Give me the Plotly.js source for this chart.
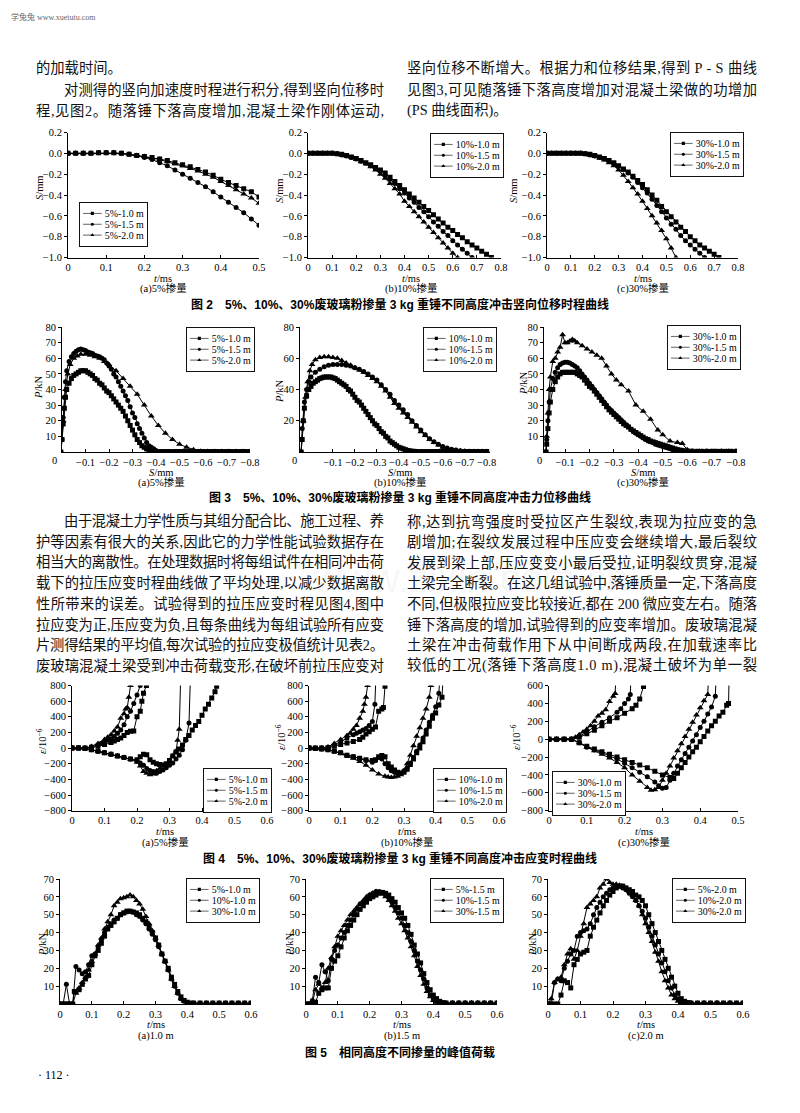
<!DOCTYPE html>
<html><head><meta charset="utf-8">
<script src="https://cdn.plot.ly/plotly-3.0.1.min.js"></script>
<style>html,body{margin:0;padding:0;background:#fff;}#gd{width:800px;height:1113px;}</style>
</head><body><div id="gd"></div>
<script>
// ---------------- Fig 2 : S vs t ----------------
const t2a = [0,0.02,0.04,0.06,0.08,0.10,0.12,0.14,0.16,0.18,0.20,0.22,0.24,0.26,0.28,0.30,0.32,0.34,0.36,0.38,0.40,0.42,0.44,0.46,0.48,0.50];
const s2a_sq = [0,0,0,0,0.005,0.005,0.005,0,-0.01,-0.02,-0.03,-0.04,-0.055,-0.07,-0.09,-0.11,-0.13,-0.155,-0.18,-0.21,-0.25,-0.28,-0.31,-0.34,-0.37,-0.42];
const s2a_ci = [0,0,0,0,0.005,0.005,0.005,0,-0.01,-0.02,-0.04,-0.06,-0.09,-0.12,-0.16,-0.2,-0.24,-0.28,-0.32,-0.37,-0.42,-0.47,-0.52,-0.57,-0.63,-0.69];
const s2a_tr = [0,0,0,0,0.005,0.005,0.005,0,-0.01,-0.02,-0.03,-0.045,-0.06,-0.08,-0.1,-0.12,-0.145,-0.17,-0.2,-0.23,-0.27,-0.31,-0.35,-0.39,-0.43,-0.48];
const t2 = [0,0.02,0.04,0.06,0.08,0.10,0.12,0.14,0.16,0.18,0.20,0.22,0.24,0.26,0.28,0.30,0.32,0.34,0.36,0.38,0.40,0.42,0.44,0.46,0.48,0.50,0.52,0.54,0.56,0.58,0.60,0.62,0.64,0.66,0.68,0.70,0.72,0.74,0.76];
const s2b_sq = [0,0,0,0,0,0,-0.005,-0.01,-0.02,-0.035,-0.05,-0.07,-0.09,-0.11,-0.135,-0.16,-0.19,-0.23,-0.27,-0.31,-0.35,-0.39,-0.43,-0.47,-0.51,-0.55,-0.59,-0.63,-0.67,-0.71,-0.74,-0.78,-0.81,-0.85,-0.88,-0.91,-0.94,-0.97,-1.0];
const s2b_ci = [0,0,0,0,0,0,-0.005,-0.015,-0.025,-0.04,-0.055,-0.075,-0.095,-0.12,-0.145,-0.17,-0.21,-0.25,-0.29,-0.34,-0.38,-0.43,-0.47,-0.52,-0.56,-0.61,-0.66,-0.7,-0.75,-0.79,-0.84,-0.88,-0.92,-0.96,-1.0];
const s2b_tr = [0,0,0,0,0,0,-0.005,-0.015,-0.025,-0.04,-0.06,-0.08,-0.1,-0.13,-0.16,-0.2,-0.24,-0.29,-0.34,-0.39,-0.46,-0.51,-0.56,-0.61,-0.66,-0.71,-0.76,-0.81,-0.86,-0.91,-0.96,-1.0];
const s2c_sq = [0,0,0,0,0,0,0,0,-0.005,-0.01,-0.02,-0.035,-0.05,-0.07,-0.09,-0.12,-0.15,-0.18,-0.22,-0.26,-0.3,-0.35,-0.4,-0.45,-0.51,-0.56,-0.61,-0.66,-0.71,-0.75,-0.8,-0.84,-0.88,-0.91,-0.94,-0.97,-1.0];
const s2c_ci = [0,0,0,0,0,0,0,0,-0.005,-0.015,-0.025,-0.04,-0.055,-0.075,-0.1,-0.125,-0.155,-0.19,-0.23,-0.28,-0.33,-0.38,-0.44,-0.5,-0.56,-0.62,-0.68,-0.73,-0.79,-0.84,-0.88,-0.92,-0.96,-1.0];
const s2c_tr = [0,0,0,0,0,0,0,0,-0.005,-0.015,-0.03,-0.045,-0.065,-0.09,-0.12,-0.16,-0.21,-0.27,-0.33,-0.39,-0.46,-0.53,-0.6,-0.67,-0.74,-0.82,-0.91,-1.0];

// ---------------- Fig 3 : P vs S  [S, P] ----------------
const f3a_sq = [[0.005,0],[0,8],[-0.005,18],[-0.01,28],[-0.015,35],[-0.02,40],[-0.03,44],[-0.04,47],[-0.05,49],[-0.06,50],[-0.07,51],[-0.08,52],[-0.09,52],[-0.10,52],[-0.11,51],[-0.12,50],[-0.13,49],[-0.14,47],[-0.15,46],[-0.16,44],[-0.17,43],[-0.18,41],[-0.19,39],[-0.20,38],[-0.21,36],[-0.22,34],[-0.23,32],[-0.24,30],[-0.25,28],[-0.26,26],[-0.27,23],[-0.28,20],[-0.29,17],[-0.30,14],[-0.31,11],[-0.32,8],[-0.33,6],[-0.34,4],[-0.35,3],[-0.36,2],[-0.37,1],[-0.38,0.5],[-0.40,0.3],[-0.42,0.3],[-0.44,0.3],[-0.46,0.3],[-0.48,0.3],[-0.50,0.3],[-0.52,0.3],[-0.54,0.3],[-0.56,0.3],[-0.58,0.3],[-0.60,0.3],[-0.62,0.3],[-0.64,0.3],[-0.66,0.3],[-0.68,0.3],[-0.70,0.3],[-0.72,0.3],[-0.74,0.3],[-0.76,0.3],[-0.78,0.3],[-0.80,0.3]];
const f3a_ci = [[0.005,0],[0,8],[-0.005,22],[-0.01,35],[-0.015,45],[-0.02,52],[-0.03,58],[-0.04,61],[-0.05,63],[-0.06,64.5],[-0.07,65.5],[-0.08,66],[-0.09,65.5],[-0.10,65],[-0.11,64],[-0.12,63.5],[-0.13,63],[-0.14,62],[-0.15,61.5],[-0.16,61],[-0.17,60],[-0.18,59],[-0.19,57],[-0.20,55],[-0.21,53],[-0.22,50],[-0.23,48],[-0.24,45],[-0.25,42],[-0.26,39],[-0.27,36],[-0.28,33],[-0.29,29],[-0.30,25],[-0.31,22],[-0.32,18],[-0.33,15],[-0.34,12],[-0.35,9],[-0.36,6],[-0.37,4],[-0.38,3],[-0.39,2],[-0.40,1],[-0.42,0.3],[-0.44,0.3],[-0.46,0.3],[-0.48,0.3],[-0.50,0.3],[-0.52,0.3],[-0.54,0.3],[-0.56,0.3],[-0.58,0.3],[-0.60,0.3],[-0.62,0.3],[-0.64,0.3],[-0.66,0.3],[-0.68,0.3],[-0.70,0.3],[-0.72,0.3],[-0.74,0.3],[-0.76,0.3],[-0.78,0.3],[-0.80,0.3]];
const f3a_tr = [[0.005,0],[-0.005,20],[-0.015,40],[-0.025,50],[-0.035,56],[-0.05,60],[-0.065,61.5],[-0.08,62.5],[-0.10,62.5],[-0.12,62],[-0.14,61],[-0.16,60],[-0.18,58],[-0.20,56],[-0.23,52],[-0.26,47],[-0.29,42],[-0.32,37],[-0.35,30],[-0.38,23],[-0.41,17],[-0.44,12],[-0.47,8],[-0.50,5],[-0.53,3],[-0.56,1.5],[-0.59,0.5],[-0.62,0.3],[-0.65,0.3],[-0.68,0.3],[-0.71,0.3],[-0.74,0.3],[-0.77,0.3],[-0.80,0.3]];
const f3b_sq = [[0.045,0],[0.04,8],[0.035,20],[0.03,28],[0.02,36],[0.01,40],[0,42],[-0.01,44],[-0.02,45],[-0.03,46],[-0.04,47],[-0.05,47.5],[-0.06,48],[-0.07,48],[-0.08,48],[-0.09,48],[-0.10,47.5],[-0.11,47],[-0.12,46],[-0.13,45],[-0.14,44],[-0.15,43],[-0.16,42],[-0.17,40],[-0.18,39],[-0.19,37],[-0.20,35],[-0.21,33],[-0.22,32],[-0.23,30],[-0.24,28],[-0.25,26],[-0.26,24],[-0.27,22],[-0.28,20],[-0.29,18],[-0.30,17],[-0.31,15],[-0.32,13],[-0.33,12],[-0.34,10],[-0.35,9],[-0.36,7],[-0.37,6],[-0.38,5],[-0.39,4],[-0.40,3],[-0.41,2.5],[-0.42,2],[-0.43,1.5],[-0.44,1],[-0.45,0.7],[-0.46,0.5],[-0.47,0.4],[-0.48,0.3],[-0.50,0.3],[-0.52,0.3],[-0.54,0.3],[-0.56,0.3],[-0.58,0.3],[-0.60,0.3],[-0.62,0.3],[-0.64,0.3],[-0.66,0.3],[-0.68,0.3],[-0.70,0.3],[-0.72,0.3],[-0.74,0.3],[-0.76,0.3],[-0.78,0.3],[-0.80,0.3]];
const f3b_ci = [[0.045,0],[0.04,15],[0.03,32],[0.02,40],[0.01,45],[0,48],[-0.02,51],[-0.04,53],[-0.06,54.5],[-0.08,55.5],[-0.10,56],[-0.12,56],[-0.14,56],[-0.16,55.5],[-0.18,55],[-0.20,54],[-0.22,53],[-0.24,51.5],[-0.26,50],[-0.28,48],[-0.30,46],[-0.32,43],[-0.34,40],[-0.36,37],[-0.38,33],[-0.40,30],[-0.42,27],[-0.44,24],[-0.46,20],[-0.48,17],[-0.50,14],[-0.52,11],[-0.54,8.5],[-0.56,6.5],[-0.58,5],[-0.60,3.5],[-0.62,2.5],[-0.64,1.8],[-0.66,1.2],[-0.68,0.8],[-0.70,0.5],[-0.72,0.3],[-0.74,0.3],[-0.76,0.3],[-0.78,0.3],[-0.80,0.3]];
const f3b_tr = [[0.045,0],[0.035,20],[0.025,35],[0.015,45],[0.005,52],[-0.005,56],[-0.02,59],[-0.04,60.5],[-0.06,61],[-0.08,61],[-0.10,60.5],[-0.12,60],[-0.14,58.5],[-0.16,57],[-0.18,55.5],[-0.20,54],[-0.22,52.5],[-0.24,51],[-0.26,49],[-0.28,47],[-0.30,45],[-0.32,42],[-0.34,39],[-0.36,35],[-0.38,31],[-0.40,28],[-0.42,25],[-0.44,22],[-0.46,19],[-0.48,16],[-0.50,13],[-0.52,10.5],[-0.54,8],[-0.56,6],[-0.58,4.5],[-0.60,3],[-0.62,2],[-0.64,1.5],[-0.66,1],[-0.68,0.7],[-0.70,0.5],[-0.72,0.3],[-0.74,0.3],[-0.76,0.3],[-0.78,0.3],[-0.80,0.3]];
const f3c_sq = [[-0.022,0],[-0.025,5],[-0.03,15],[-0.035,25],[-0.04,32],[-0.05,40],[-0.06,45],[-0.07,48],[-0.08,50],[-0.09,51],[-0.10,51],[-0.11,51],[-0.12,51],[-0.13,51],[-0.14,51],[-0.15,50],[-0.16,49],[-0.17,48],[-0.18,46],[-0.19,44],[-0.20,42],[-0.21,41],[-0.22,39],[-0.23,37],[-0.24,35],[-0.25,33],[-0.26,31],[-0.27,29],[-0.28,27],[-0.29,25.5],[-0.30,24],[-0.31,22.5],[-0.32,21],[-0.33,19.5],[-0.34,18],[-0.35,17],[-0.36,16],[-0.37,14.5],[-0.38,13.5],[-0.39,12.5],[-0.40,11.5],[-0.41,10.5],[-0.42,9.5],[-0.43,8.5],[-0.44,8],[-0.45,7],[-0.46,6.5],[-0.47,6],[-0.48,5.5],[-0.49,5],[-0.50,4.5],[-0.51,4],[-0.52,3.5],[-0.53,3],[-0.54,2.5],[-0.55,2],[-0.56,1.5],[-0.57,1.2],[-0.58,1],[-0.60,0.7],[-0.62,0.5],[-0.64,0.4],[-0.66,0.4],[-0.68,0.4],[-0.70,0.4],[-0.72,0.4],[-0.74,0.4],[-0.76,0.4],[-0.78,0.4],[-0.80,0.4]];
const f3c_ci = [[-0.022,0],[-0.025,8],[-0.03,20],[-0.035,32],[-0.04,40],[-0.05,47],[-0.06,51],[-0.07,54],[-0.08,56],[-0.09,57],[-0.10,57.5],[-0.11,57.5],[-0.12,57],[-0.13,56],[-0.14,55],[-0.15,54],[-0.16,52],[-0.17,50],[-0.18,48],[-0.19,46],[-0.20,44],[-0.21,42],[-0.22,40],[-0.23,38],[-0.24,36],[-0.25,34],[-0.26,32],[-0.27,30],[-0.28,28],[-0.29,26.5],[-0.30,25],[-0.31,23.5],[-0.32,22],[-0.33,20.5],[-0.34,19],[-0.35,17.5],[-0.36,16],[-0.37,14.5],[-0.38,13],[-0.39,12],[-0.40,11],[-0.41,10],[-0.42,9],[-0.43,8],[-0.44,7],[-0.45,6.5],[-0.46,6],[-0.47,5],[-0.48,4.5],[-0.49,4],[-0.50,3.5],[-0.51,3],[-0.52,2.5],[-0.53,2],[-0.54,1.5],[-0.55,1.2],[-0.56,1],[-0.58,0.7],[-0.60,0.5],[-0.62,0.4],[-0.64,0.4],[-0.66,0.4],[-0.68,0.4],[-0.70,0.4],[-0.72,0.4],[-0.74,0.4],[-0.76,0.4],[-0.78,0.4],[-0.80,0.4]];
const f3c_tr = [[-0.022,0],[-0.025,10],[-0.03,25],[-0.035,40],[-0.04,48],[-0.05,58],[-0.06,60],[-0.07,64],[-0.08,67],[-0.09,75],[-0.10,70],[-0.11,70],[-0.12,71],[-0.13,72],[-0.14,71],[-0.15,70],[-0.17,68],[-0.19,66],[-0.21,64],[-0.23,62],[-0.25,60],[-0.27,55],[-0.29,50],[-0.31,46],[-0.33,43],[-0.36,39],[-0.39,30],[-0.42,26],[-0.45,21],[-0.48,14],[-0.50,11],[-0.53,7],[-0.56,6],[-0.58,5.5],[-0.60,1.5],[-0.62,0.5],[-0.65,0.5],[-0.68,0.5],[-0.71,0.5],[-0.74,0.5],[-0.77,0.5],[-0.80,0.5]];

// ---------------- Fig 4 : strain vs t  [t, e]  (tension branch / compression branch) ----------------
const f4a_sq_up = [[0,0],[0.02,0],[0.04,0],[0.06,10],[0.08,25],[0.10,45],[0.12,70],[0.13,90],[0.14,110],[0.15,130],[0.16,160],[0.17,200],[0.18,215],[0.19,220],[0.20,400],[0.21,470],[0.215,600],[0.22,700],[0.229,800]];
const f4a_sq_dn = [[0,0],[0.02,0],[0.04,-5],[0.06,-20],[0.08,-40],[0.10,-60],[0.12,-80],[0.14,-100],[0.16,-120],[0.18,-140],[0.20,-150],[0.21,-110],[0.22,-80],[0.23,-85],[0.24,-150],[0.25,-180],[0.26,-200],[0.27,-210],[0.28,-215],[0.29,-200],[0.30,-160],[0.31,-100],[0.32,-50],[0.33,-10],[0.34,40],[0.35,110],[0.36,160],[0.37,230],[0.38,290],[0.39,340],[0.40,420],[0.41,500],[0.42,560],[0.43,640],[0.44,720],[0.445,790]];
const f4a_ci_up = [[0,0],[0.02,0],[0.04,0],[0.06,15],[0.08,40],[0.09,60],[0.10,80],[0.11,100],[0.12,120],[0.13,150],[0.14,190],[0.15,230],[0.16,300],[0.17,400],[0.18,470],[0.19,570],[0.20,680],[0.21,800]];
const f4a_ci_dn = [[0,0],[0.02,0],[0.04,-5],[0.06,-20],[0.08,-40],[0.10,-60],[0.12,-80],[0.14,-100],[0.16,-120],[0.18,-140],[0.20,-165],[0.21,-190],[0.22,-220],[0.23,-260],[0.24,-285],[0.25,-300],[0.26,-320],[0.27,-300],[0.28,-280],[0.29,-250],[0.30,-220],[0.31,-190],[0.32,-140],[0.33,-90],[0.34,-20],[0.35,100],[0.36,320],[0.365,1000]];
const f4a_tr_up = [[0,0],[0.02,0],[0.04,0],[0.06,20],[0.08,60],[0.10,110],[0.11,140],[0.12,170],[0.13,220],[0.14,270],[0.15,380],[0.16,440],[0.165,500],[0.17,520],[0.175,650],[0.18,800]];
const f4a_tr_dn = [[0,0],[0.02,0],[0.04,-5],[0.06,-20],[0.08,-40],[0.10,-60],[0.12,-80],[0.14,-100],[0.16,-120],[0.18,-145],[0.20,-180],[0.21,-230],[0.22,-300],[0.23,-320],[0.24,-340],[0.25,-330],[0.26,-290],[0.27,-260],[0.28,-230],[0.29,-210],[0.30,-180],[0.31,-100],[0.32,-40],[0.325,100],[0.33,240],[0.335,1000]];
const f4b_sq_up = [[0,0],[0.02,0],[0.04,0],[0.06,5],[0.08,25],[0.10,45],[0.12,65],[0.14,85],[0.16,110],[0.17,140],[0.18,180],[0.19,210],[0.20,240],[0.21,270],[0.22,470],[0.23,500],[0.235,520],[0.24,790]];
const f4b_sq_dn = [[0,0],[0.02,-5],[0.04,-10],[0.06,-20],[0.08,-40],[0.10,-60],[0.12,-90],[0.14,-110],[0.16,-130],[0.18,-150],[0.20,-160],[0.21,-150],[0.22,-110],[0.23,-95],[0.24,-110],[0.25,-200],[0.26,-240],[0.27,-280],[0.28,-310],[0.29,-320],[0.30,-310],[0.31,-270],[0.32,-210],[0.33,-140],[0.34,-60],[0.35,0],[0.36,80],[0.37,180],[0.38,280],[0.39,380],[0.40,450],[0.41,550],[0.42,650],[0.425,1000]];
const f4b_ci_up = [[0,0],[0.02,0],[0.04,0],[0.06,10],[0.08,40],[0.10,80],[0.12,130],[0.14,170],[0.15,190],[0.16,210],[0.17,230],[0.18,250],[0.19,290],[0.20,340],[0.208,560],[0.212,1000]];
const f4b_ci_dn = [[0,0],[0.02,-5],[0.04,-10],[0.06,-20],[0.08,-40],[0.10,-60],[0.12,-90],[0.14,-110],[0.16,-135],[0.18,-160],[0.20,-180],[0.21,-160],[0.22,-120],[0.23,-140],[0.24,-200],[0.25,-250],[0.26,-290],[0.27,-310],[0.28,-320],[0.29,-320],[0.30,-290],[0.31,-250],[0.32,-190],[0.33,-120],[0.34,-40],[0.35,40],[0.36,130],[0.37,230],[0.38,330],[0.39,420],[0.40,530],[0.41,700],[0.415,1000]];
const f4b_tr_up = [[0,0],[0.02,0],[0.04,0],[0.06,15],[0.08,60],[0.10,110],[0.12,160],[0.13,190],[0.14,240],[0.15,290],[0.16,380],[0.17,470],[0.175,560],[0.18,650],[0.185,800]];
const f4b_tr_dn = [[0,0],[0.02,-5],[0.04,-10],[0.06,-20],[0.08,-40],[0.10,-70],[0.12,-100],[0.14,-130],[0.16,-170],[0.18,-220],[0.20,-280],[0.22,-330],[0.24,-360],[0.25,-370],[0.26,-375],[0.27,-370],[0.28,-360],[0.29,-340],[0.30,-290],[0.31,-200],[0.32,-90],[0.33,30],[0.34,150],[0.35,260],[0.36,380],[0.37,500],[0.38,650],[0.385,800]];
const f4c_sq_up = [[0,0],[0.02,0],[0.04,0],[0.06,0],[0.08,20],[0.10,60],[0.12,100],[0.14,150],[0.16,200],[0.18,240],[0.20,290],[0.22,340],[0.23,380],[0.24,450],[0.25,590]];
const f4c_sq_dn = [[0,0],[0.02,0],[0.04,0],[0.06,0],[0.08,-40],[0.10,-80],[0.12,-110],[0.14,-140],[0.16,-170],[0.18,-200],[0.20,-230],[0.22,-260],[0.24,-290],[0.26,-320],[0.28,-360],[0.30,-400],[0.32,-430],[0.33,-440],[0.34,-380],[0.35,-320],[0.36,-260],[0.37,-200],[0.38,-140],[0.39,-90],[0.40,-30],[0.41,30],[0.42,90],[0.43,150],[0.44,200],[0.45,260],[0.46,300],[0.47,380],[0.475,400],[0.478,1000]];
const f4c_ci_up = [[0,0],[0.02,0],[0.04,0],[0.06,0],[0.08,30],[0.10,80],[0.12,140],[0.14,190],[0.16,240],[0.18,300],[0.19,340],[0.20,400],[0.21,450],[0.215,500],[0.22,1000]];
const f4c_ci_dn = [[0,0],[0.02,0],[0.04,0],[0.06,0],[0.08,-40],[0.10,-90],[0.12,-120],[0.14,-150],[0.16,-190],[0.18,-220],[0.20,-270],[0.22,-320],[0.24,-370],[0.26,-420],[0.28,-480],[0.29,-520],[0.30,-550],[0.31,-540],[0.32,-460],[0.33,-380],[0.34,-300],[0.35,-230],[0.36,-160],[0.37,-90],[0.38,-20],[0.39,50],[0.40,130],[0.41,200],[0.42,280],[0.43,360],[0.44,480],[0.445,1000]];
const f4c_tr_up = [[0,0],[0.02,0],[0.04,0],[0.06,0],[0.07,20],[0.08,50],[0.09,80],[0.10,110],[0.11,150],[0.12,200],[0.13,260],[0.14,290],[0.15,330],[0.16,420],[0.17,480],[0.175,510],[0.18,1000]];
const f4c_tr_dn = [[0,0],[0.02,0],[0.04,0],[0.06,0],[0.08,-40],[0.10,-90],[0.12,-130],[0.14,-170],[0.16,-210],[0.18,-260],[0.20,-320],[0.22,-400],[0.24,-470],[0.26,-540],[0.27,-570],[0.28,-565],[0.29,-540],[0.30,-460],[0.31,-380],[0.32,-300],[0.33,-210],[0.34,-130],[0.35,-50],[0.36,30],[0.37,110],[0.38,190],[0.39,270],[0.40,350],[0.41,430],[0.42,500],[0.425,1000]];

// ---------------- Fig 5 : P vs t  [t, P] ----------------
const f5a_5 = [[0,0],[0.01,0],[0.02,0],[0.03,0],[0.04,0],[0.045,7],[0.05,7],[0.06,8],[0.07,11],[0.08,14],[0.09,16],[0.10,22],[0.11,27],[0.12,30],[0.13,34],[0.14,38],[0.15,42],[0.16,44],[0.17,46],[0.18,48],[0.19,50],[0.20,51],[0.21,52],[0.22,52],[0.23,51.5],[0.24,51],[0.25,50],[0.26,48],[0.27,46],[0.28,43],[0.29,40],[0.30,37],[0.31,33],[0.32,28],[0.33,24],[0.34,20],[0.35,15],[0.36,11],[0.37,7],[0.38,4],[0.39,2],[0.40,1],[0.41,0.5],[0.42,0.5],[0.44,0.5],[0.46,0.5],[0.48,0.5],[0.50,0.5],[0.52,0.5],[0.54,0.5],[0.56,0.5],[0.58,0.5],[0.60,0.5]];
const f5a_10 = [[0,0],[0.01,0],[0.02,11],[0.03,0],[0.04,0],[0.05,21],[0.06,19],[0.07,17],[0.08,18],[0.09,22],[0.10,27],[0.11,28],[0.12,32],[0.13,36],[0.14,40],[0.15,43],[0.16,45],[0.17,47],[0.18,48],[0.19,50],[0.20,51],[0.21,51.5],[0.22,52],[0.23,51.5],[0.24,50],[0.25,49],[0.26,47],[0.27,45],[0.28,42],[0.29,39],[0.30,36],[0.31,32],[0.32,28],[0.33,24],[0.34,19],[0.35,14],[0.36,10],[0.37,6],[0.38,3],[0.39,1.5],[0.40,0.5],[0.42,0.5],[0.44,0.5],[0.46,0.5],[0.48,0.5],[0.50,0.5],[0.52,0.5],[0.54,0.5],[0.56,0.5],[0.58,0.5],[0.60,0.5]];
const f5a_30 = [[0,0],[0.01,0],[0.02,0],[0.03,0],[0.04,0],[0.05,6],[0.06,9],[0.07,12],[0.08,15],[0.09,19],[0.10,24],[0.11,28],[0.12,33],[0.13,37],[0.14,42],[0.15,46],[0.16,50],[0.17,55],[0.18,57],[0.19,59],[0.20,59.5],[0.21,60],[0.22,61],[0.23,60],[0.24,58],[0.25,56],[0.26,53],[0.27,49],[0.28,45],[0.29,41],[0.30,37],[0.31,33],[0.32,28],[0.33,24],[0.34,19],[0.35,14],[0.36,10],[0.37,6],[0.38,3],[0.39,1.5],[0.40,0.5]];
const f5b_5 = [[0,0],[0.01,0],[0.02,0],[0.03,1],[0.04,6],[0.05,8],[0.06,9],[0.07,9],[0.08,20],[0.09,24],[0.10,27],[0.11,32],[0.12,37],[0.13,41],[0.14,44],[0.15,47],[0.16,50],[0.17,53],[0.18,55],[0.19,57],[0.20,59],[0.21,60],[0.22,61],[0.23,62],[0.24,62.5],[0.25,62],[0.26,61],[0.27,59],[0.28,57],[0.29,54],[0.30,51],[0.31,48],[0.32,44],[0.33,39],[0.34,33],[0.35,28],[0.36,23],[0.37,17],[0.38,12],[0.39,8],[0.40,5],[0.41,3],[0.42,1.5],[0.43,0.8],[0.44,0.5],[0.46,0.5],[0.48,0.5],[0.50,0.5],[0.52,0.5],[0.54,0.5],[0.56,0.5],[0.58,0.5],[0.60,0.5]];
const f5b_10 = [[0,0],[0.01,0],[0.02,2],[0.03,15],[0.04,12],[0.05,22],[0.06,18],[0.07,13],[0.08,25],[0.09,30],[0.10,33],[0.11,37],[0.12,40],[0.13,44],[0.14,47],[0.15,50],[0.16,53],[0.17,56],[0.18,57],[0.19,59],[0.20,61],[0.21,62],[0.22,63],[0.23,63],[0.24,62],[0.25,61],[0.26,59.5],[0.27,57],[0.28,54],[0.29,51],[0.30,48],[0.31,44],[0.32,40],[0.33,35],[0.34,30],[0.35,24],[0.36,19],[0.37,14],[0.38,9],[0.39,5],[0.40,3],[0.41,1.5],[0.42,1],[0.44,0.5],[0.46,0.5],[0.48,0.5],[0.50,0.5],[0.52,0.5],[0.54,0.5],[0.56,0.5],[0.58,0.5],[0.60,0.5]];
const f5b_30 = [[0,0],[0.01,0],[0.02,1],[0.03,8],[0.04,11],[0.05,9],[0.06,12],[0.07,20],[0.08,26],[0.09,32],[0.10,38],[0.11,41],[0.12,44],[0.13,47],[0.14,50],[0.15,52],[0.16,54],[0.17,56],[0.18,58],[0.19,60],[0.20,61],[0.21,62],[0.22,63],[0.23,62.5],[0.24,62],[0.25,60],[0.26,58],[0.27,55],[0.28,52],[0.29,48],[0.30,45],[0.31,41],[0.32,37],[0.33,32],[0.34,27],[0.35,21],[0.36,16],[0.37,11],[0.38,7],[0.39,4],[0.40,2],[0.41,1],[0.42,0.5],[0.44,0.5],[0.46,0.5],[0.48,0.5],[0.50,0.5],[0.52,0.5],[0.54,0.5],[0.56,0.5],[0.58,0.5],[0.60,0.5]];
const f5c_5 = [[0,0],[0.01,0],[0.02,0],[0.03,0],[0.04,5],[0.05,13],[0.06,12],[0.07,9],[0.08,22],[0.09,25],[0.10,28],[0.11,29],[0.12,30],[0.13,38],[0.14,43],[0.15,47],[0.16,51],[0.17,55],[0.18,58],[0.19,61],[0.20,63],[0.21,65],[0.22,66],[0.23,66],[0.24,65],[0.25,64],[0.26,63],[0.27,61],[0.28,60],[0.29,58],[0.30,55],[0.31,50],[0.32,45],[0.33,40],[0.34,35],[0.35,30],[0.36,25],[0.37,20],[0.38,15],[0.39,10],[0.40,6],[0.41,3],[0.42,1.5],[0.43,0.8],[0.44,0.5],[0.46,0.5],[0.48,0.5],[0.50,0.5],[0.52,0.5],[0.54,0.5],[0.56,0.5],[0.58,0.5],[0.60,0.5]];
const f5c_10 = [[0,0],[0.01,0],[0.02,12],[0.03,14],[0.04,13],[0.05,20],[0.06,24],[0.07,28],[0.08,30],[0.09,38],[0.10,40],[0.11,41],[0.12,42],[0.13,45],[0.14,50],[0.15,54],[0.16,57],[0.17,60],[0.18,62],[0.19,64],[0.20,65],[0.21,66],[0.22,66],[0.23,65],[0.24,64],[0.25,62],[0.26,60],[0.27,58],[0.28,55],[0.29,52],[0.30,48],[0.31,43],[0.32,38],[0.33,33],[0.34,28],[0.35,23],[0.36,18],[0.37,13],[0.38,9],[0.39,5],[0.40,3],[0.41,1.5],[0.42,0.5],[0.44,0.5],[0.46,0.5],[0.48,0.5],[0.50,0.5],[0.52,0.5],[0.54,0.5],[0.56,0.5],[0.58,0.5],[0.60,0.5]];
const f5c_30 = [[0,0],[0.01,3],[0.02,12],[0.03,14],[0.04,15],[0.05,22],[0.06,28],[0.07,31],[0.08,25],[0.09,30],[0.10,38],[0.11,45],[0.12,54],[0.13,56],[0.14,58],[0.15,60],[0.16,65],[0.17,67],[0.18,70],[0.19,68],[0.20,67],[0.21,67],[0.22,66.5],[0.23,66],[0.24,65],[0.25,63],[0.26,61],[0.27,58],[0.28,55],[0.29,50],[0.30,45],[0.31,40],[0.32,35],[0.33,29],[0.34,24],[0.35,18],[0.36,13],[0.37,9],[0.38,5],[0.39,3],[0.40,1.5],[0.41,0.5],[0.44,0.5],[0.48,0.5],[0.52,0.5],[0.56,0.5],[0.60,0.5]];

// ---------------- labels ----------------
const names2a = ['5%-1.0 m','5%-1.5 m','5%-2.0 m'];
const names2b = ['10%-1.0 m','10%-1.5 m','10%-2.0 m'];
const names2c = ['30%-1.0 m','30%-1.5 m','30%-2.0 m'];
const names5a = ['5%-1.0 m','10%-1.0 m','30%-1.0 m'];
const names5b = ['5%-1.5 m','10%-1.5 m','30%-1.5 m'];
const names5c = ['5%-2.0 m','10%-2.0 m','30%-2.0 m'];
const ticks2y = [0.2,0,-0.2,-0.4,-0.6,-0.8,-1.0];
const ticks3x = [-0.1,-0.2,-0.3,-0.4,-0.5,-0.6,-0.7,-0.8];
const ticks3y = [10,20,30,40,50,60,70,80];
const ticks3by = [20,40,60,80];
const ticks5y = [10,20,30,40,50,60,70];
const subcaps2 = ['(a)5%掺量','(b)10%掺量','(c)30%掺量'];
const subcaps5 = ['(a)1.0 m','(b)1.5 m','(c)2.0 m'];
const captions = ['图 2　5%、10%、30%废玻璃粉掺量 3 kg 重锤不同高度冲击竖向位移时程曲线',
  '图 3　5%、10%、30%废玻璃粉掺量 3 kg 重锤不同高度冲击力位移曲线',
  '图 4　5%、10%、30%废玻璃粉掺量 3 kg 重锤不同高度冲击应变时程曲线',
  '图 5　相同高度不同掺量的峰值荷载'];
const textTopL = ['的加载时间。','对测得的竖向加速度时程进行积分,得到竖向位移时','程,见图2。随落锤下落高度增加,混凝土梁作刚体运动,'];
const textTopR = ['竖向位移不断增大。根据力和位移结果,得到 P - S 曲线','见图3,可见随落锤下落高度增加对混凝土梁做的功增加','(PS 曲线面积)。'];
const textMidL = ['由于混凝土力学性质与其组分配合比、施工过程、养','护等因素有很大的关系,因此它的力学性能试验数据存在','相当大的离散性。在处理数据时将每组试件在相同冲击荷','载下的拉压应变时程曲线做了平均处理,以减少数据离散','性所带来的误差。试验得到的拉压应变时程见图4,图中','拉应变为正,压应变为负,且每条曲线为每组试验所有应变','片测得结果的平均值,每次试验的拉应变极值统计见表2。','废玻璃混凝土梁受到冲击荷载变形,在破坏前拉压应变对'];
const textMidR = ['称,达到抗弯强度时受拉区产生裂纹,表现为拉应变的急','剧增加;在裂纹发展过程中压应变会继续增大,最后裂纹','发展到梁上部,压应变变小最后受拉,证明裂纹贯穿,混凝','土梁完全断裂。在这几组试验中,落锤质量一定,下落高度','不同,但极限拉应变比较接近,都在 200 微应变左右。随落','锤下落高度的增加,试验得到的应变率增加。废玻璃混凝','土梁在冲击荷载作用下从中间断成两段,在加载速率比','较低的工况(落锤下落高度1.0 m),混凝土破坏为单一裂'];

// ---------------- build ----------------
const SERIF = '"Liberation Serif", "Noto Sans CJK SC", serif';
const BOLD = '"Liberation Sans", "Noto Sans CJK SC", sans-serif';
const W = 800, H = 1113, LS = 0.62, LGAP = 17.5;
const px = v => v / W, py = v => 1 - v / H;
const data = [], annotations = [], justify = [];
const layout = {width: W, height: H, margin: {l:0, r:0, t:0, b:0, autoexpand:false},
  paper_bgcolor:'#fff', plot_bgcolor:'rgba(0,0,0,0)', showlegend:true, annotations: annotations};
const SYM = ['square','circle','triangle-up'];
const TICKF = {family:SERIF, size:10.5, color:'#000'};
const LABF = {family:SERIF, size:10.5, color:'#000'};

function sfx(n){ return n === 1 ? '' : String(n); }
function addAxes(n, xd, yd, xo, yo){
  const s = sfx(n);
  const base = {showline:true, linecolor:'#000', linewidth:1, tickwidth:1, tickcolor:'#000', showgrid:false,
    zeroline:false, tickfont:TICKF, tickangle:0, autorange:false, fixedrange:true};
  layout['xaxis'+s] = Object.assign({}, base, {domain:[px(xd[0]), px(xd[1])], anchor:'y'+s, ticks:'inside', ticklen:3}, xo);
  layout['yaxis'+s] = Object.assign({}, base, {domain:[py(yd[1]), py(yd[0])], anchor:'x'+s, ticks:'outside', ticklen:3}, yo);
}
function addLegend(n, xl, yt){
  layout['legend'+sfx(n)] = {x:px(xl), y:py(yt), xanchor:'left', yanchor:'top', bgcolor:'#fff', bordercolor:'#000',
    borderwidth:1.5, font:{family:SERIF, size:16, color:'#000'}, itemwidth:30, traceorder:'normal'};
}
function addTrace(n, xs, ys, k, name){
  const s = sfx(n);
  data.push({type:'scatter', mode:'lines+markers', x:xs, y:ys, xaxis:'x'+s, yaxis:'y'+s, name:name,
    legend:'legend'+s, showlegend:true, cliponaxis:true,
    line:{color:'#000', width:1}, marker:{symbol:SYM[k], size:k===2?6:5, color:'#000', line:{width:0}}});
}
const X = p => p.map(d => d ? d[0] : null);
const Y = p => p.map(d => d ? d[1] : null);
const join = (a, b) => a.concat([null], b);
function txt(x, y, text, o){
  annotations.push(Object.assign({xref:'paper', yref:'paper', x:px(x), y:py(y), text:text, showarrow:false,
    xanchor:'center', yanchor:'middle', font:LABF}, o || {}));
  return annotations.length - 1;
}

// Fig 2
const yd2 = [132.5, 257.5];
const ax2y = {range:[-1.0, 0.2], tickvals:ticks2y, tickformat:'.1f'};
addAxes(1, [68,259], yd2, {range:[0,0.5], dtick:0.1}, ax2y);
addAxes(2, [308,501], yd2, {range:[0,0.8], dtick:0.1}, ax2y);
addAxes(3, [547,738], yd2, {range:[0,0.8], dtick:0.1}, ax2y);
addTrace(1, t2a, s2a_sq, 0, names2a[0]); addTrace(1, t2a, s2a_ci, 1, names2a[1]); addTrace(1, t2a, s2a_tr, 2, names2a[2]);
addTrace(2, t2.slice(0, s2b_sq.length), s2b_sq, 0, names2b[0]); addTrace(2, t2.slice(0, s2b_ci.length), s2b_ci, 1, names2b[1]); addTrace(2, t2.slice(0, s2b_tr.length), s2b_tr, 2, names2b[2]);
addTrace(3, t2.slice(0, s2c_sq.length), s2c_sq, 0, names2c[0]); addTrace(3, t2.slice(0, s2c_ci.length), s2c_ci, 1, names2c[1]); addTrace(3, t2.slice(0, s2c_tr.length), s2c_tr, 2, names2c[2]);
addLegend(1, 79, 202); addLegend(2, 430, 133); addLegend(3, 670, 132);

// Fig 3
const yd3 = [327, 452];
addAxes(4, [62,250], yd3, {range:[0,-0.8], tickvals:ticks3x}, {range:[0,80], tickvals:ticks3y});
addAxes(5, [300,490], yd3, {range:[0.05,-0.815], tickvals:ticks3x}, {range:[0,80], tickvals:ticks3by});
addAxes(6, [544,737], yd3, {range:[-0.014,-0.804], tickvals:ticks3x}, {range:[0,80], tickvals:ticks3y});
[[f3a_sq,f3a_ci,f3a_tr,4,names2a],[f3b_sq,f3b_ci,f3b_tr,5,names2b],[f3c_sq,f3c_ci,f3c_tr,6,names2c]].forEach(g => {
  [g[0],g[1],g[2]].forEach((p,k) => addTrace(g[3], X(p), Y(p), k, g[4][k]));
});
addLegend(4, 186, 327); addLegend(5, 423, 327); addLegend(6, 667, 325);

// Fig 4
const yd4 = [685.5, 810.7];
addAxes(7, [72,267], yd4, {range:[0,0.6], dtick:0.1}, {range:[-800,800], dtick:200});
addAxes(8, [309,499], yd4, {range:[0,0.6], dtick:0.1}, {range:[-800,800], dtick:200});
addAxes(9, [549,738], yd4, {range:[0,0.5], dtick:0.1}, {range:[-800,600], dtick:200});
[[[f4a_sq_up,f4a_sq_dn],[f4a_ci_up,f4a_ci_dn],[f4a_tr_up,f4a_tr_dn],7,names2a],
 [[f4b_sq_up,f4b_sq_dn],[f4b_ci_up,f4b_ci_dn],[f4b_tr_up,f4b_tr_dn],8,names2b],
 [[f4c_sq_up,f4c_sq_dn],[f4c_ci_up,f4c_ci_dn],[f4c_tr_up,f4c_tr_dn],9,names2c]].forEach(g => {
  [g[0],g[1],g[2]].forEach((br,k) => { const p = join(br[0], br[1]); addTrace(g[3], X(p), Y(p), k, g[4][k]); });
});
addLegend(7, 203, 768); addLegend(8, 433, 768); addLegend(9, 552, 771);

// Fig 5
const yd5 = [879, 1004];
addAxes(10, [60,251], yd5, {range:[0,0.6], dtick:0.1}, {range:[0,70], tickvals:ticks5y});
addAxes(11, [306,497], yd5, {range:[0,0.6], dtick:0.1}, {range:[0,70], tickvals:ticks5y});
addAxes(12, [548,743], yd5, {range:[0,0.6], dtick:0.1}, {range:[0,70], tickvals:ticks5y});
[[f5a_5,f5a_10,f5a_30,10,names5a],[f5b_5,f5b_10,f5b_30,11,names5b],[f5c_5,f5c_10,f5c_30,12,names5c]].forEach(g => {
  [g[0],g[1],g[2]].forEach((p,k) => addTrace(g[3], X(p), Y(p), k, g[4][k]));
});
addLegend(10, 186, 878); addLegend(11, 430, 878); addLegend(12, 672, 878);

// axis titles & sub captions
[[39,188],[279,191],[513,191]].forEach(p => txt(p[0], p[1], '<i>S</i>/mm', {textangle:-90}));
[[163,278],[411,278],[643,278]].forEach(p => txt(p[0], p[1], '<i>t</i>/ms'));
[[163,288],[411,288],[643,288]].forEach((p,i) => txt(p[0], p[1], subcaps2[i]));
[[39,387],[279,391],[523,383]].forEach(p => txt(p[0], p[1], '<i>P</i>/kN', {textangle:-90}));
[[161,472],[400,472],[643,472]].forEach(p => txt(p[0], p[1], '<i>S</i>/mm'));
[[161,482],[400,482],[643,482]].forEach((p,i) => txt(p[0], p[1], subcaps2[i]));
[[54,460],[294,460],[539,460]].forEach(p => txt(p[0], p[1], '0'));
[[42,741],[280,737],[515,737]].forEach(p => txt(p[0], p[1], '<i>ε</i>/10<sup>−6</sup>', {textangle:-90}));
[[165,831],[407,831],[644,831]].forEach(p => txt(p[0], p[1], '<i>t</i>/ms'));
[[165,842],[407,842],[644,842]].forEach((p,i) => txt(p[0], p[1], subcaps2[i]));
[[42,944],[289,944],[532,944]].forEach(p => txt(p[0], p[1], '<i>P</i>/kN', {textangle:-90}));
[[156,1024],[402,1024],[646,1024]].forEach(p => txt(p[0], p[1], '<i>t</i>/ms'));
[[156,1036],[402,1036],[646,1036]].forEach((p,i) => txt(p[0], p[1], subcaps5[i]));
[304,497,858,1052].forEach((y,i) => txt(400, y, '<b>' + captions[i] + '</b>', {font:{family:BOLD, size:12, color:'#000'}}));

// body text (justified lines get a fixed length after rendering)
const BODY = {family:SERIF, size:14.3, color:'#111'};
function bodyLine(x, y, s, w){
  const i = txt(x - 2, y, s, {xanchor:'left', align:'left', font:BODY});
  if (w) justify.push([i, w]);
}
textTopL.forEach((s,i) => bodyLine(i===1 ? 64 : 36, 68 + i*21.5, s, i===1 ? 320 : (i===2 ? 348 : 0)));
textTopR.forEach((s,i) => bodyLine(407, 68 + i*21.5, s, i < 2 ? 350 : 0));
textMidL.forEach((s,i) => bodyLine(i===0 ? 64 : 36, 521 + i*20.6, s, i===0 ? 320 : 348));
textMidR.forEach((s,i) => bodyLine(407, 521 + i*20.6, s, 350));
txt(9, 17, '学兔兔 www.xuetutu.com', {xanchor:'left', font:{family:SERIF, size:8, color:'#666'}});
txt(36, 1075, '· 112 ·', {xanchor:'left', font:{family:SERIF, size:12, color:'#000'}});
txt(470, 578, 'www.zixin.com.cn', {font:{family:'"Liberation Sans", sans-serif', size:40, color:'rgba(0,0,0,0.05)'}});

function parseT(el){
  const m = /translate\(\s*([-\d.e]+)[ ,]+([-\d.e]+)\s*\)/.exec(el.getAttribute('transform') || '');
  return m ? [parseFloat(m[1]), parseFloat(m[2])] : null;
}
function squeezeLegend(g){
  const items = Array.from(g.querySelectorAll('g.traces'));
  if (items.length < 2) return;
  const p0 = parseT(items[0]), p1 = parseT(items[1]);
  if (!p0 || !p1) return;
  const step = p1[1] - p0[1];
  if (step <= LGAP) return;
  items.forEach((it, i) => { const p = parseT(it); if (p) it.setAttribute('transform', 'translate(' + p[0] + ',' + (p0[1] + i * LGAP) + ')'); });
  const bg = g.querySelector('rect.bg');
  if (bg) { const h = parseFloat(bg.getAttribute('height')); bg.setAttribute('height', h - (items.length - 1) * (step - LGAP)); }
}

const gd = document.getElementById('gd');
Plotly.newPlot(gd, data, layout, {staticPlot:true, displayModeBar:false}).then(() => {
  gd.querySelectorAll('.infolayer > g').forEach(g => {
    const c = g.getAttribute('class') || '';
    if (/^legend\d*$/.test(c)) {
      squeezeLegend(g);
      const t = g.getAttribute('transform') || '';
      g.setAttribute('transform', t + ' scale(' + LS + ')');
    }
  });
  justify.forEach(j => {
    const t = gd.querySelector('g.annotation[data-index="' + j[0] + '"] text.annotation-text');
    if (t) { t.setAttribute('textLength', j[1]); t.setAttribute('lengthAdjust', 'spacing'); }
  });
});
</script></body></html>
